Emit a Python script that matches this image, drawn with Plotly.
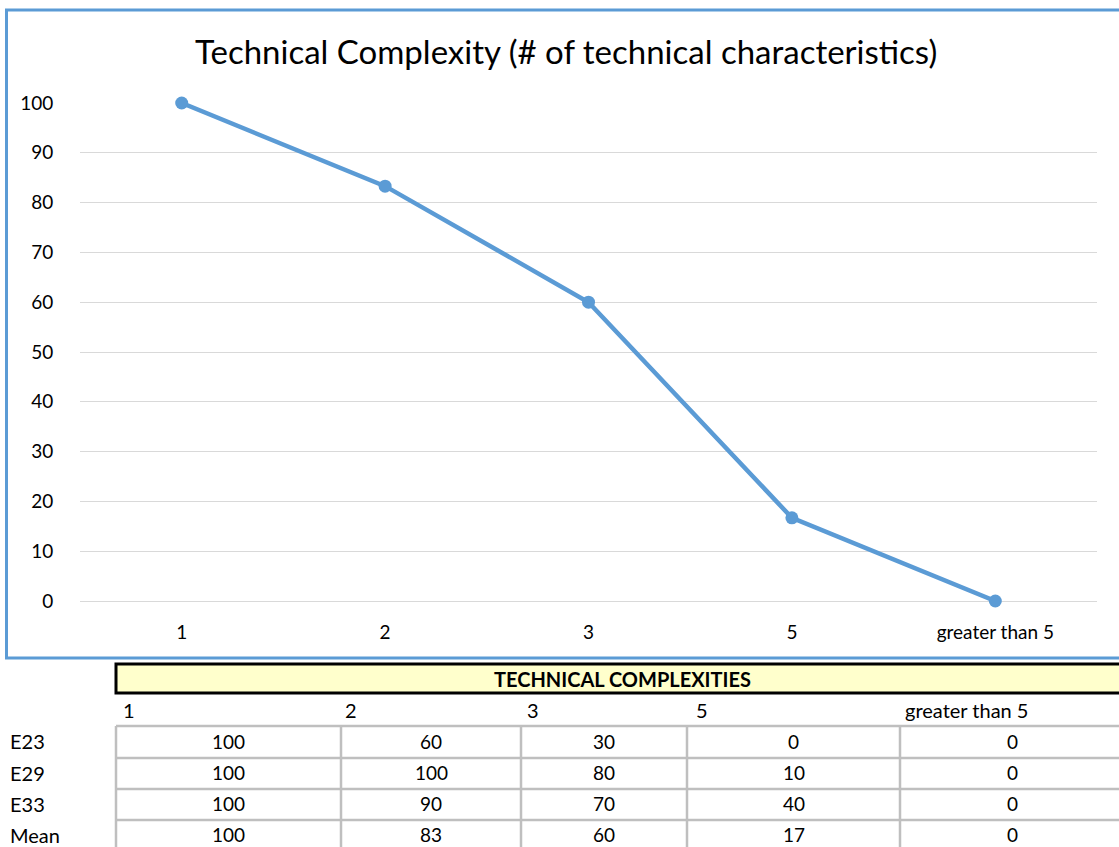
import plotly.graph_objects as go

# ---- data ----
categories = ["1", "2", "3", "5", "greater than 5"]
mean_values = [100, 83.3, 60, 16.7, 0]
y_ticks = [0, 10, 20, 30, 40, 50, 60, 70, 80, 90, 100]

table_title = "TECHNICAL COMPLEXITIES"
row_labels = ["E23", "E29", "E33", "Mean"]
e23 = [100, 60, 30, 0, 0]
e29 = [100, 100, 80, 10, 0]
e33 = [100, 90, 70, 40, 0]
mean_row = [100, 83, 60, 17, 0]
table_rows = [e23, e29, e33, mean_row]

W, H = 1119, 847
FONT = "Lato, Carlito, Calibri, 'Open Sans', sans-serif"
BLUE = "#5B9BD5"


def px(x):
    return x / W


def py(y):
    return 1 - y / H


fig = go.Figure()
fig.add_trace(go.Scatter(
    x=categories, y=mean_values, mode="lines+markers",
    line=dict(color=BLUE, width=4.5),
    marker=dict(color=BLUE, size=13),
    cliponaxis=False, showlegend=False, hoverinfo="x+y",
))

shapes = []
annotations = []

# chart border (right side cut off)
shapes.append(dict(type="rect", xref="paper", yref="paper",
                   x0=px(6.5), x1=px(1130), y0=py(658), y1=py(10),
                   line=dict(color=BLUE, width=3), fillcolor="rgba(0,0,0,0)",
                   layer="above"))

# title
annotations.append(dict(text="Technical Complexity (# of technical characteristics)",
                        xref="paper", yref="paper", x=px(566), y=py(51),
                        xanchor="center", yanchor="middle", showarrow=False,
                        font=dict(family=FONT, size=33, color="#000000")))

# table: yellow header
shapes.append(dict(type="rect", xref="paper", yref="paper",
                   x0=px(116), x1=px(1130), y0=py(693), y1=py(664),
                   line=dict(color="#000000", width=3), fillcolor="#FFFFCC"))
annotations.append(dict(text="<b>" + table_title + "</b>", xref="paper", yref="paper",
                        x=px(622), y=py(679), xanchor="center", yanchor="middle",
                        showarrow=False, font=dict(family=FONT, size=20, color="#000000")))

# column header row
col_bounds = [116, 341, 521, 687, 900, 1124]
header_x = [121, 343, 525, 694, 903]
for lbl, hx in zip(categories, header_x):
    annotations.append(dict(text=lbl, xref="paper", yref="paper", x=px(hx), y=py(710),
                            xanchor="left", yanchor="middle", showarrow=False,
                            font=dict(family=FONT, size=20, color="#000000")))

# grid lines of table
row_bounds = [726, 758, 789, 820, 851]
GRAY = "#BFBFBF"
for yb in row_bounds:
    shapes.append(dict(type="line", xref="paper", yref="paper",
                       x0=px(116), x1=px(1130), y0=py(yb), y1=py(yb),
                       line=dict(color=GRAY, width=2.5)))
for xb in col_bounds:
    shapes.append(dict(type="line", xref="paper", yref="paper",
                       x0=px(xb), x1=px(xb), y0=py(726), y1=py(860),
                       line=dict(color=GRAY, width=2.5)))

# cell values
for r, (lbl, vals) in enumerate(zip(row_labels, table_rows)):
    yc = (row_bounds[r] + row_bounds[r + 1]) / 2 - 1
    annotations.append(dict(text=lbl, xref="paper", yref="paper", x=px(8), y=py(yc),
                            xanchor="left", yanchor="middle", showarrow=False,
                            font=dict(family=FONT, size=20, color="#000000")))
    for c, v in enumerate(vals):
        xc = (col_bounds[c] + col_bounds[c + 1]) / 2
        annotations.append(dict(text=str(v), xref="paper", yref="paper", x=px(xc), y=py(yc),
                                xanchor="center", yanchor="middle", showarrow=False,
                                font=dict(family=FONT, size=19, color="#000000")))

fig.update_layout(
    template="none",
    width=W, height=H, autosize=False,
    margin=dict(l=0, r=0, t=0, b=0, pad=0, autoexpand=False),
    paper_bgcolor="#FFFFFF", plot_bgcolor="#FFFFFF",
    font=dict(family=FONT, size=19, color="#000000"),
    shapes=shapes, annotations=annotations,
    xaxis=dict(domain=[px(80), px(1097)], type="category", range=[-0.5, 4.5],
               automargin=False,
               showgrid=False, zeroline=False, showline=False,
               ticks="outside", ticklen=14, tickcolor="rgba(0,0,0,0)",
               tickfont=dict(family=FONT, size=19, color="#000000")),
    yaxis=dict(domain=[py(601), py(103)], range=[0, 100], tickvals=y_ticks,
               automargin=False,
               showgrid=True, gridcolor="#D9D9D9", gridwidth=1.3,
               zeroline=True, zerolinecolor="#D9D9D9", zerolinewidth=1.3,
               showline=False, ticks="outside", ticklen=22,
               tickcolor="rgba(0,0,0,0)",
               tickfont=dict(family=FONT, size=19, color="#000000")),
)

post = (
    "document.documentElement.style.margin='0';"
    "document.documentElement.style.overflow='hidden';"
    "document.body.style.margin='0';document.body.style.overflow='hidden';"
    "var d=document.getElementsByClassName('plotly-graph-div')[0];"
    "d.style.position='fixed';d.style.top='0px';d.style.left='0px';"
)

fig.write_html("out.html", config={"displayModeBar": False}, post_script=post)
